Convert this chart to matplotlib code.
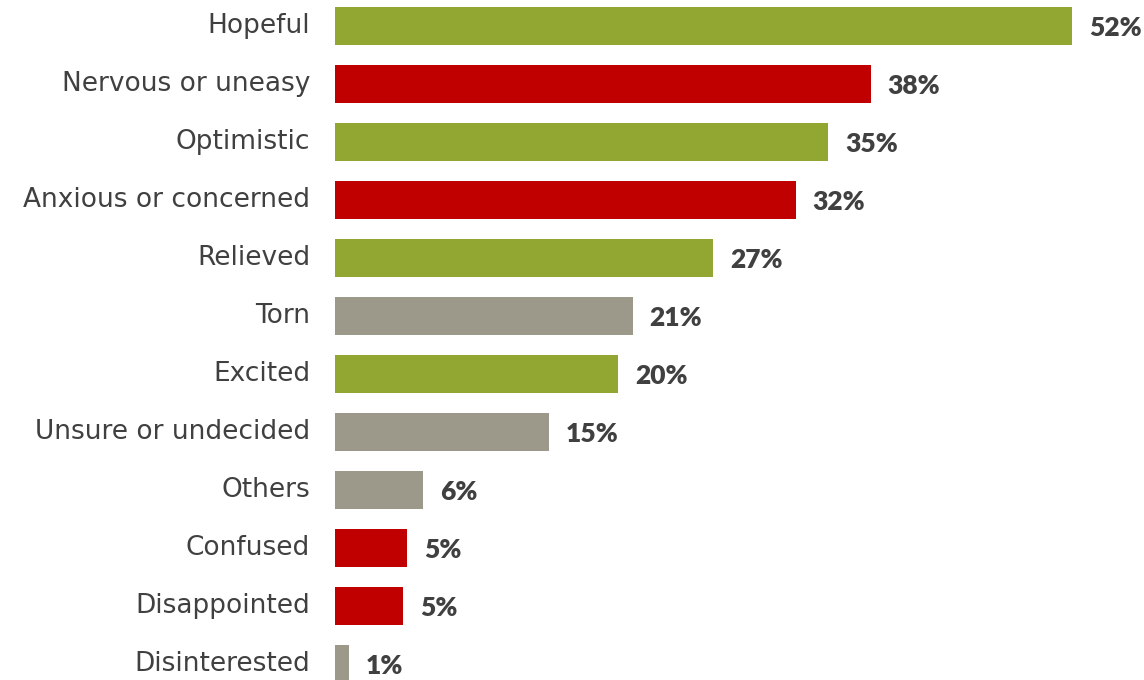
import matplotlib
matplotlib.use("Agg")
import matplotlib.pyplot as plt

categories = ["Hopeful", "Nervous or uneasy", "Optimistic", "Anxious or concerned",
              "Relieved", "Torn", "Excited", "Unsure or undecided", "Others",
              "Confused", "Disappointed", "Disinterested"]
values = [52.0, 37.8, 34.8, 32.5, 26.7, 21.0, 20.0, 15.1, 6.2, 5.1, 4.8, 1.0]
value_labels = ["52%", "38%", "35%", "32%", "27%", "21%", "20%", "15%", "6%", "5%", "5%", "1%"]
sentiment = ["pos", "neg", "pos", "neg", "pos", "neu", "pos", "neu", "neu", "neg", "neg", "neu"]

colors = {"pos": "#92A632", "neg": "#C00000", "neu": "#9C998A"}

W, H = 1144, 680
fig = plt.figure(figsize=(W / 100, H / 100), dpi=100)
left_px = 335
ax = fig.add_axes([left_px / W, 0, 1 - left_px / W, 1])

y = list(range(len(categories)))
ax.barh(y, values, height=0.66, color=[colors[s] for s in sentiment])
ax.set_ylim(11.276, -0.448)
px_per_unit = 14.17
ax.set_xlim(0, (W - left_px) / px_per_unit)

for yi, v, lab in zip(y, values, value_labels):
    ax.annotate(lab, (v, yi), xytext=(17, -2), textcoords="offset pixels",
                ha="left", va="center", fontsize=19, fontweight="heavy",
                family="Lato", color="#404040")

ax.set_yticks(y)
ax.set_yticklabels(categories, family="DejaVu Sans", fontsize=19, color="#404040",
                   va="center")
for t in ax.get_yticklabels():
    t.set_y(t.get_position()[1])
ax.tick_params(axis="y", length=0, pad=18)
ax.set_xticks([])
for s in ax.spines.values():
    s.set_visible(False)

fig.savefig("out.png", dpi=100)
